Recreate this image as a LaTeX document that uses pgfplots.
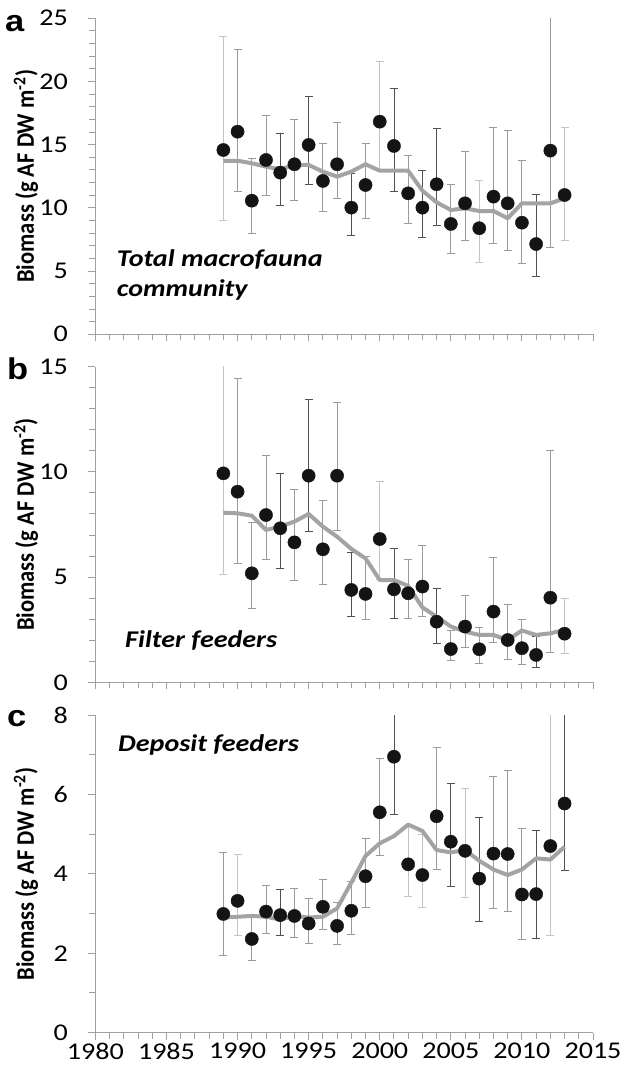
\documentclass[border=0pt]{standalone}
\usepackage{pgfplots}
\pgfplotsset{compat=1.18}
\usepackage{pgfplotstable}
\usepackage{fontspec}
\setmainfont{Carlito}
\newfontfamily\arialb{Liberation Sans}
\definecolor{linegray}{HTML}{A3A3A3}
\definecolor{axgray}{HTML}{A0A0A0}
\definecolor{errL}{HTML}{C4C4C4}
\definecolor{errM}{HTML}{9A9A9A}
\definecolor{errD}{HTML}{505050}
\definecolor{dotblack}{HTML}{141414}

\pgfplotstableread{
x y hi lo s
1989 14.58 23.6 9.04 0
1990 16.03 22.55 11.34 1
1991 10.57 13.92 7.99 1
1992 13.79 17.3 11.02 1
1993 12.79 15.9 10.23 2
1994 13.45 17.0 10.62 1
1995 14.98 18.8 11.89 2
1996 12.13 15.11 9.68 1
1997 13.45 16.77 10.76 1
1998 10.02 12.74 7.83 2
1999 11.81 15.11 9.18 1
2000 16.82 21.57 13.0 0
2001 14.9 19.46 11.34 2
2002 11.15 14.16 8.78 1
2003 10.02 13.0 7.67 2
2004 11.87 16.3 8.62 2
2005 8.73 11.87 6.4 1
2006 10.36 14.5 7.4 1
2007 8.39 12.2 5.7 0
2008 10.89 16.38 7.2 1
2009 10.36 16.1 6.67 1
2010 8.83 13.79 5.62 1
2011 7.14 11.1 4.61 2
2012 14.53 30 6.88 1
2013 11.02 16.35 7.4 0
}\dataA
\pgfplotstableread{
x m
1989 13.71
1990 13.73
1991 13.53
1992 13.26
1993 13.05
1994 13.4
1995 13.4
1996 12.87
1997 12.47
1998 12.87
1999 13.45
2000 12.94
2001 12.94
2002 12.94
2003 11.36
2004 10.44
2005 9.83
2006 9.97
2007 9.75
2008 9.75
2009 9.18
2010 10.36
2011 10.36
2012 10.36
2013 10.76
}\lineA
\pgfplotstableread{
x y hi lo s
1989 9.93 15.5 5.13 0
1990 9.06 14.45 5.66 1
1991 5.18 7.59 3.52 1
1992 7.95 10.79 5.85 1
1993 7.32 9.93 5.42 2
1994 6.65 9.17 4.83 1
1995 9.82 13.45 7.16 2
1996 6.32 8.62 4.66 1
1997 9.82 13.31 7.24 1
1998 4.39 6.16 3.12 2
1999 4.2 5.97 2.99 1
2000 6.81 9.54 4.9 0
2001 4.42 6.37 3.04 2
2002 4.23 5.85 3.04 1
2003 4.55 6.49 3.15 1
2004 2.88 4.45 1.85 2
2005 1.58 2.46 1.06 1
2006 2.65 4.15 1.66 1
2007 1.57 2.61 0.9 1
2008 3.36 5.94 1.89 1
2009 2.01 3.72 1.09 1
2010 1.62 2.99 0.87 1
2011 1.3 2.17 0.71 2
2012 4.02 11.04 1.41 1
2013 2.31 3.99 1.35 0
}\dataB
\pgfplotstableread{
x m
1989 8.06
1990 8.03
1991 7.92
1992 7.24
1993 7.4
1994 7.64
1995 8.0
1996 7.4
1997 6.92
1998 6.34
1999 5.89
2000 4.86
2001 4.86
2002 4.58
2003 3.56
2004 3.12
2005 2.65
2006 2.41
2007 2.25
2008 2.25
2009 2.01
2010 2.46
2011 2.25
2012 2.33
2013 2.49
}\lineB
\pgfplotstableread{
x y hi lo s
1989 2.99 4.54 1.95 1
1990 3.32 4.49 2.46 0
1991 2.36 2.99 1.83 1
1992 3.05 3.72 2.5 1
1993 2.96 3.61 2.45 2
1994 2.94 3.63 2.4 1
1995 2.75 3.38 2.25 1
1996 3.17 3.86 2.6 1
1997 2.69 3.28 2.21 1
1998 3.07 3.8 2.47 1
1999 3.94 4.89 3.15 1
2000 5.55 6.9 4.47 1
2001 6.95 8.5 5.49 2
2002 4.24 5.2 3.44 0
2003 3.97 4.99 3.15 0
2004 5.45 7.18 4.11 1
2005 4.81 6.28 3.69 2
2006 4.58 6.15 3.41 0
2007 3.88 5.42 2.81 2
2008 4.51 6.46 3.13 1
2009 4.5 6.61 3.05 1
2010 3.48 5.14 2.35 1
2011 3.49 5.1 2.38 2
2012 4.7 9.0 2.46 0
2013 5.77 8.6 4.08 2
}\dataC
\pgfplotstableread{
x m
1989 2.9
1990 2.92
1991 2.94
1992 2.92
1993 2.85
1994 2.94
1995 2.9
1996 2.92
1997 3.13
1998 3.78
1999 4.45
2000 4.77
2001 4.95
2002 5.24
2003 5.08
2004 4.6
2005 4.54
2006 4.6
2007 4.33
2008 4.11
2009 3.97
2010 4.11
2011 4.39
2012 4.36
2013 4.68
}\lineC

\tikzset{
 ann/.style={font=\fontsize{24}{30}\selectfont\bfseries\itshape, anchor=west, align=left, inner sep=0pt, xscale=1.17},
 plet/.style={font=\fontsize{30}{32}\selectfont\arialb\bfseries, anchor=base west, inner sep=0pt, xscale=1.15},
}
\pgfplotsset{
 panel/.style={
  scale only axis, width=497.6pt, xmin=1980, xmax=2015, ymin=0,
  axis lines=left, axis line style={axgray, line width=1.2pt, -},
  xtick={1980,1985,...,2015}, minor x tick num=4,
  tick style={axgray, line width=1pt},
  tick align=outside, major tick length=7pt, minor tick length=6pt,
  tick label style={font=\fontsize{24}{28}\selectfont, xscale=1.17},
  yticklabel style={xshift=-14pt},
  /pgf/number format/assume math mode=true,
  /pgf/number format/set thousands separator={},
  ylabel={\bfseries Biomass (g AF DW m\textsuperscript{-2})},
  ylabel style={font=\fontsize{22.5}{26}\selectfont, yscale=1.12, at={(axis description cs:-0.1395,0.5)}, anchor=center},
 },
 errplot/.style={only marks, mark=none, forget plot,
  error bars/.cd, y dir=both, y explicit,
  error bar style={#1, line width=0.9pt},
  error mark options={#1, line width=0.9pt, mark size=4pt, rotate=90}},
 mavg/.style={linegray, line width=4pt, mark=none, line join=round},
 dots/.style={only marks, mark=*, mark size=6.6pt, mark options={draw=dotblack, fill=dotblack}},
}

\newcommand{\errs}[1]{%
  \addplot[errplot=errL] table[x=x, y=y, y error plus expr=\thisrow{hi}-\thisrow{y}, y error minus expr=\thisrow{y}-\thisrow{lo}, restrict expr to domain={\thisrow{s}}{-0.5:0.5}] {#1};
  \addplot[errplot=errM] table[x=x, y=y, y error plus expr=\thisrow{hi}-\thisrow{y}, y error minus expr=\thisrow{y}-\thisrow{lo}, restrict expr to domain={\thisrow{s}}{0.5:1.5}] {#1};
  \addplot[errplot=errD] table[x=x, y=y, y error plus expr=\thisrow{hi}-\thisrow{y}, y error minus expr=\thisrow{y}-\thisrow{lo}, restrict expr to domain={\thisrow{s}}{1.5:2.5}] {#1};
}

\begin{document}
\begin{tikzpicture}
\useasboundingbox (0,0) rectangle (638pt,1079pt);

% panel a
\begin{axis}[panel, at={(95.4pt,744.7pt)}, anchor=south west, height=316pt,
  ymax=25, ytick={0,5,...,25}, minor y tick num=4, xticklabels={}]
  \errs{\dataA}
  \addplot[mavg] table[x=x, y=m] {\lineA};
  \addplot[dots] table[x=x, y=y] {\dataA};
  \node[ann] at (axis description cs:0.0428,0.188) {Total macrofauna\\community};
\end{axis}

% panel b
\begin{axis}[panel, at={(95.4pt,396.7pt)}, anchor=south west, height=315.6pt,
  ymax=15, ytick={0,5,10,15}, minor y tick num=4, xticklabels={}]
  \errs{\dataB}
  \addplot[mavg] table[x=x, y=m] {\lineB};
  \addplot[dots] table[x=x, y=y] {\dataB};
  \node[ann] at (axis description cs:0.0595,0.134) {Filter feeders};
\end{axis}

% panel c
\begin{axis}[panel, at={(95.4pt,46.3pt)}, anchor=south west, height=317.7pt,
  ymax=8, ytick={0,2,...,8}, minor y tick num=1]
  \errs{\dataC}
  \addplot[mavg] table[x=x, y=m] {\lineC};
  \addplot[dots] table[x=x, y=y] {\dataC};
  \node[ann] at (axis description cs:0.0454,0.906) {Deposit feeders};
\end{axis}

\node[plet] at (5pt,1047.3pt) {a};
\node[plet] at (7pt,699.7pt) {b};
\node[plet] at (7pt,352.3pt) {c};
\end{tikzpicture}
\end{document}
